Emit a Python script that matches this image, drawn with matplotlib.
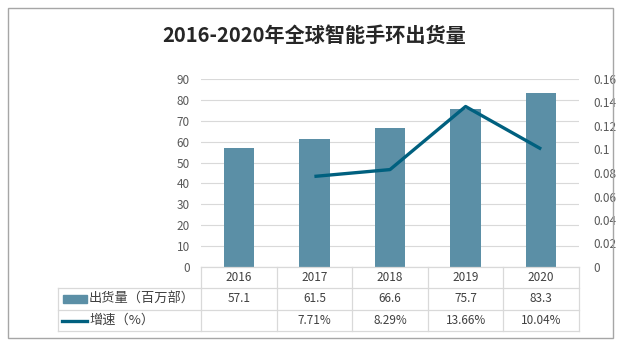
import matplotlib.pyplot as plt
import matplotlib.patches as mpatches
from matplotlib.lines import Line2D
import numpy as np

plt.rcParams['font.family'] = ['Noto Sans CJK SC', 'DejaVu Sans']

# data
years = ['2016', '2017', '2018', '2019', '2020']
shipments = [57.1, 61.5, 66.6, 75.7, 83.3]          # 百万部
growth = [None, 0.0771, 0.0829, 0.1366, 0.1004]
growth_labels = ['', '7.71%', '8.29%', '13.66%', '10.04%']
bar_name = '出货量（百万部）'
line_name = '增速（%）'
title = '2016-2020年全球智能手环出货量'

BAR_COLOR = '#5B8FA6'
LINE_COLOR = '#00607F'
GRID = '#D9D9D9'
TICK = '#595959'
TXT = '#404040'

W, H = 618, 342
fig = plt.figure(figsize=(W / 100, H / 100), dpi=100)


def fx(px):
    return px / W


def fy(py):
    return 1 - py / H


# outer frame
fig.patches.append(mpatches.Rectangle((fx(8), fy(338)), fx(605), (330) / H,
                                      transform=fig.transFigure, fill=False,
                                      edgecolor='#A6A6A6', linewidth=1))

fig.text(fx(314), fy(35), title, ha='center', va='center', fontsize=14.5,
         fontweight='bold', color='#262626')

left, right, top, bottom = 201, 579, 79, 267
ax = fig.add_axes([fx(left), fy(bottom), fx(right - left), (bottom - top) / H])
x = np.arange(len(years))
ax.bar(x, shipments, width=0.4, color=BAR_COLOR, zorder=2)
ax.set_xlim(-0.5, len(years) - 0.5)
ax.set_ylim(0, 90)
ax.set_yticks(range(0, 91, 10))
ax.set_xticks([])
ax.grid(axis='y', color=GRID, linewidth=0.8, zorder=0)
for s in ax.spines.values():
    s.set_visible(False)
ax.tick_params(axis='y', length=0, labelsize=8.5, labelcolor=TICK, pad=8)

ax2 = ax.twinx()
gx = [i for i, g in enumerate(growth) if g is not None]
gy = [g for g in growth if g is not None]
ax2.plot(gx, gy, color=LINE_COLOR, linewidth=2.4, zorder=3, solid_capstyle='butt')
ax2.set_ylim(0, 0.16)
ax2.set_yticks(np.arange(0, 0.161, 0.02))
ax2.set_yticklabels(['0', '0.02', '0.04', '0.06', '0.08', '0.1', '0.12', '0.14', '0.16'])
for s in ax2.spines.values():
    s.set_visible(False)
ax2.tick_params(axis='y', length=0, labelsize=8.5, labelcolor=TICK, pad=10)

# data table
rows_y = [267, 288, 310, 331]
tab_left = 58
col_w = (right - left) / len(years)
lines = []
lines.append(((left, right), (rows_y[0], rows_y[0])))
for yy in rows_y[1:]:
    lines.append(((tab_left, right), (yy, yy)))
lines.append(((tab_left, tab_left), (rows_y[1], rows_y[3])))
for i in range(len(years) + 1):
    xx = left + i * col_w
    lines.append(((xx, xx), (rows_y[0], rows_y[3])))
for (xs, ys) in lines:
    fig.lines.append(Line2D([fx(v) for v in xs], [fy(v) for v in ys],
                            transform=fig.transFigure, color=GRID, linewidth=0.9))

for i, yr in enumerate(years):
    cx = left + (i + 0.5) * col_w
    fig.text(fx(cx), fy((rows_y[0] + rows_y[1]) / 2), yr, ha='center', va='center',
             fontsize=8.5, color=TXT)
    fig.text(fx(cx), fy((rows_y[1] + rows_y[2]) / 2), f'{shipments[i]:.1f}', ha='center',
             va='center', fontsize=8.5, color=TXT)
    fig.text(fx(cx), fy((rows_y[2] + rows_y[3]) / 2), growth_labels[i], ha='center',
             va='center', fontsize=8.5, color=TXT)

# legend keys inside the table
fig.patches.append(mpatches.Rectangle((fx(63), fy(303)), fx(24), 8 / H,
                                      transform=fig.transFigure, color=BAR_COLOR))
fig.lines.append(Line2D([fx(62), fx(87)], [fy(321), fy(321)], transform=fig.transFigure,
                        color=LINE_COLOR, linewidth=2.4))
fig.text(fx(89), fy(299), bar_name, ha='left', va='center', fontsize=9.5, color=TXT)
fig.text(fx(89), fy(320), line_name, ha='left', va='center', fontsize=9.5, color=TXT)

fig.savefig('out.png', dpi=100, facecolor='white')
